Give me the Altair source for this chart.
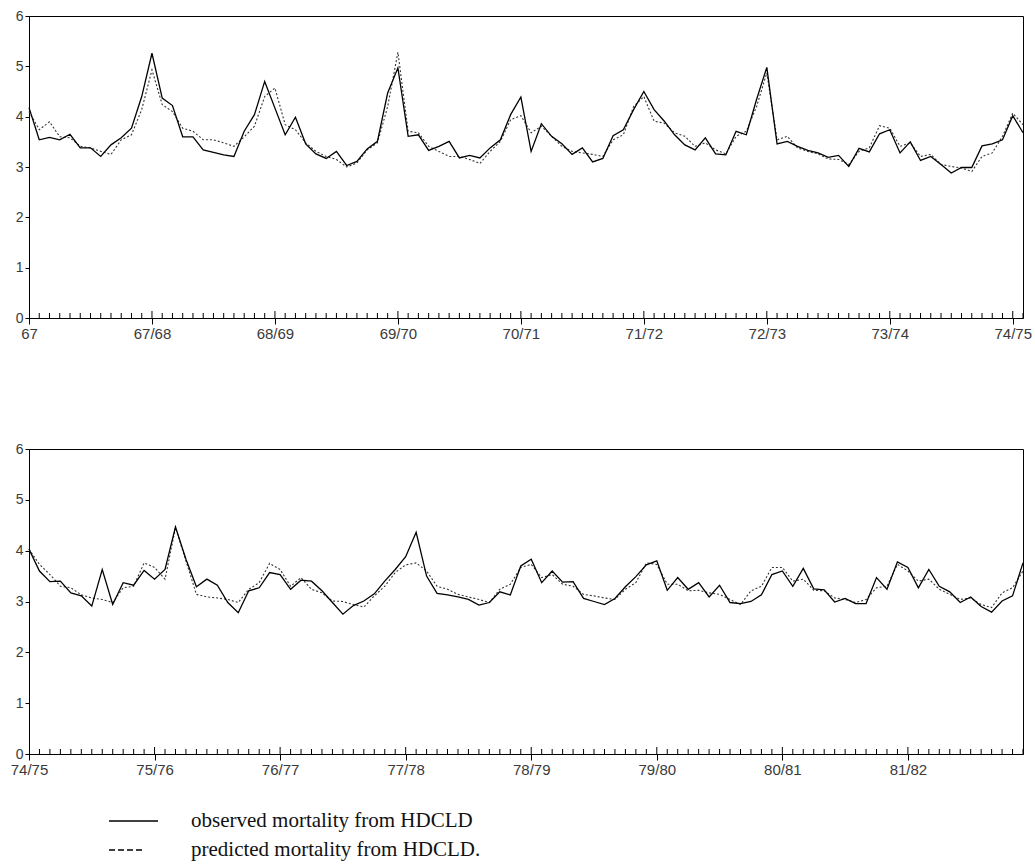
import altair as alt
import pandas as pd

# ---------------- data (monthly values) ----------------
top_labels = ["67", "67/68", "68/69", "69/70", "70/71", "71/72", "72/73", "73/74", "74/75"]
bottom_labels = ["74/75", "75/76", "76/77", "77/78", "78/79", "79/80", "80/81", "81/82"]
y_ticks = [0, 1, 2, 3, 4, 5, 6]

top_observed = [
    4.18, 3.54, 3.59, 3.54, 3.65, 3.38, 3.38, 3.21, 3.44, 3.58, 3.77, 4.40,
    5.26, 4.37, 4.22, 3.60, 3.60, 3.34, 3.29, 3.24, 3.21, 3.71, 4.04, 4.70,
    4.17, 3.64, 3.99, 3.46, 3.26, 3.17, 3.31, 3.03, 3.11, 3.36, 3.51, 4.47,
    4.97, 3.61, 3.64, 3.33, 3.41, 3.51, 3.18, 3.23, 3.18, 3.38, 3.54, 4.04,
    4.39, 3.31, 3.86, 3.61, 3.46, 3.25, 3.38, 3.10, 3.17, 3.62, 3.74, 4.14,
    4.50, 4.14, 3.91, 3.64, 3.44, 3.34, 3.58, 3.26, 3.24, 3.71, 3.64, 4.34,
    4.98, 3.46, 3.51, 3.41, 3.33, 3.28, 3.19, 3.23, 3.01, 3.37, 3.30, 3.66,
    3.74, 3.28, 3.50, 3.13, 3.21, 3.05, 2.88, 2.99, 2.99, 3.42, 3.46, 3.54,
    4.02, 3.68,
]
top_predicted = [
    4.10, 3.74, 3.90, 3.60, 3.58, 3.41, 3.38, 3.31, 3.25, 3.54, 3.64, 4.14,
    4.93, 4.24, 4.10, 3.77, 3.71, 3.54, 3.54, 3.48, 3.41, 3.60, 3.81, 4.40,
    4.57, 3.84, 3.74, 3.48, 3.31, 3.21, 3.15, 3.00, 3.08, 3.34, 3.48, 4.20,
    5.28, 3.71, 3.68, 3.41, 3.31, 3.21, 3.21, 3.15, 3.07, 3.31, 3.51, 3.94,
    4.02, 3.68, 3.81, 3.61, 3.41, 3.31, 3.28, 3.25, 3.21, 3.54, 3.64, 4.20,
    4.40, 3.91, 3.87, 3.68, 3.61, 3.41, 3.48, 3.34, 3.26, 3.61, 3.71, 4.20,
    4.87, 3.54, 3.61, 3.38, 3.31, 3.26, 3.16, 3.15, 3.05, 3.31, 3.38, 3.82,
    3.77, 3.41, 3.48, 3.21, 3.25, 3.05, 3.01, 2.98, 2.91, 3.21, 3.28, 3.61,
    4.07, 3.84,
]
bottom_observed = [
    4.03, 3.60, 3.39, 3.40, 3.17, 3.11, 2.91, 3.63, 2.94, 3.37, 3.32, 3.61,
    3.44, 3.63, 4.47, 3.83, 3.29, 3.44, 3.32, 2.98, 2.78, 3.21, 3.27, 3.57,
    3.53, 3.24, 3.42, 3.40, 3.21, 2.98, 2.75, 2.92, 3.01, 3.15, 3.40, 3.63,
    3.88, 4.36, 3.50, 3.16, 3.13, 3.09, 3.04, 2.93, 2.98, 3.19, 3.13, 3.70,
    3.83, 3.37, 3.60, 3.38, 3.39, 3.06, 3.00, 2.94, 3.06, 3.29, 3.49, 3.72,
    3.80, 3.22, 3.47, 3.24, 3.37, 3.09, 3.32, 2.98, 2.96, 3.00, 3.13, 3.53,
    3.60, 3.30, 3.65, 3.25, 3.23, 2.99, 3.06, 2.96, 2.96, 3.47, 3.24, 3.78,
    3.67, 3.27, 3.63, 3.30, 3.19, 2.98, 3.09, 2.90, 2.79, 3.01, 3.11, 3.76,
]
bottom_predicted = [
    4.03, 3.73, 3.53, 3.30, 3.27, 3.13, 3.07, 3.04, 2.98, 3.27, 3.30, 3.76,
    3.67, 3.44, 4.45, 3.80, 3.14, 3.09, 3.07, 3.04, 2.98, 3.24, 3.37, 3.75,
    3.63, 3.30, 3.47, 3.24, 3.17, 3.01, 3.00, 2.94, 2.89, 3.11, 3.30, 3.57,
    3.72, 3.76, 3.60, 3.30, 3.24, 3.14, 3.09, 3.04, 2.98, 3.24, 3.34, 3.67,
    3.73, 3.47, 3.53, 3.34, 3.30, 3.14, 3.11, 3.07, 3.04, 3.24, 3.37, 3.76,
    3.73, 3.34, 3.34, 3.21, 3.22, 3.17, 3.14, 3.04, 2.94, 3.21, 3.30, 3.67,
    3.67, 3.40, 3.44, 3.22, 3.21, 3.07, 3.04, 2.98, 3.04, 3.27, 3.30, 3.73,
    3.60, 3.40, 3.44, 3.24, 3.14, 3.04, 3.07, 2.94, 2.88, 3.17, 3.27, 3.60,
]
legend_labels = ["observed mortality from HDCLD", "predicted mortality from HDCLD."]

AXIS_FONT = "Liberation Sans"
W = 994


def panel(observed, predicted, labels, xmax, h, legend=False):
    n = len(observed)
    df = pd.DataFrame({"month": list(range(n)), "observed": observed, "predicted": predicted})
    xs = alt.Scale(domain=[0, xmax], nice=False, zero=False)
    ys = alt.Scale(domain=[0, 6], nice=False)
    majors = [12 * i for i in range(len(labels))]
    expr = "[" + ",".join("'%s'" % l for l in labels) + "][round(datum.value/12)]"
    xaxis = alt.Axis(values=majors, labelExpr=expr, tickSize=6, tickColor="black",
                     domainColor="black", labelFont=AXIS_FONT, labelFontSize=15,
                     labelColor="#3a3a3a", grid=False, title=None, labelPadding=2,
                     labelFlush=False)
    yaxis = alt.Axis(values=y_ticks, tickSize=4, tickColor="black", domainColor="black",
                     labelFont=AXIS_FONT, labelFontSize=14, labelColor="#3a3a3a",
                     grid=False, title=None, labelPadding=2, format="d")
    base = alt.Chart(df)
    obs = base.mark_line(color="black", strokeWidth=1.3).encode(
        x=alt.X("month:Q", scale=xs, axis=xaxis),
        y=alt.Y("observed:Q", scale=ys, axis=yaxis),
    )
    pred = base.mark_line(color="#333", strokeWidth=1.1, strokeDash=[2, 2]).encode(
        x=alt.X("month:Q", scale=xs),
        y=alt.Y("predicted:Q", scale=ys),
    )
    minor_df = pd.DataFrame({"m": [m for m in range(1, int(xmax) + 1) if m % 12 != 0]})
    minor = alt.Chart(minor_df).mark_rule(color="black", strokeWidth=1).encode(
        x=alt.X("m:Q", scale=xs), y=alt.value(h), y2=alt.value(h - 5)
    )
    major_df = pd.DataFrame({"m": majors[1:]})
    major = alt.Chart(major_df).mark_rule(color="black", strokeWidth=1).encode(
        x=alt.X("m:Q", scale=xs), y=alt.value(h), y2=alt.value(h - 7)
    )
    layers = [minor, major, pred, obs]
    if legend:
        leg_df = pd.DataFrame({"label": legend_labels, "row": [0, 1]})
        txt_style = dict(align="left", baseline="middle", font="Liberation Serif",
                         fontSize=21, color="#111")
        txt1 = alt.Chart(leg_df[leg_df.row == 0]).mark_text(**txt_style).encode(
            x=alt.value(162), y=alt.value(h + 67), text="label:N"
        )
        txt2 = alt.Chart(leg_df[leg_df.row == 1]).mark_text(**txt_style).encode(
            x=alt.value(162), y=alt.value(h + 96), text="label:N"
        )
        solid = alt.Chart(leg_df[leg_df.row == 0]).mark_rule(color="black", strokeWidth=1.6).encode(
            x=alt.value(80), x2=alt.value(129), y=alt.value(h + 67)
        )
        dashed = alt.Chart(leg_df[leg_df.row == 1]).mark_rule(
            color="black", strokeWidth=1.6, strokeDash=[6, 3]
        ).encode(x=alt.value(80), x2=alt.value(114), y=alt.value(h + 96))
        layers += [solid, dashed, txt1, txt2]
    return alt.layer(*layers)


top = panel(top_observed, top_predicted, top_labels, 97, 302).properties(width=W, height=302)
bottom = panel(bottom_observed, bottom_predicted, bottom_labels, 95, 305, legend=True).properties(width=W, height=305)

chart = alt.vconcat(top, bottom, spacing=99).properties(
    padding={"left": 9, "top": 8, "right": 0, "bottom": 5},
    background="white",
).configure_view(stroke="black", strokeWidth=1)

chart.save("out.html", embed_options={"renderer": "svg", "actions": False})
